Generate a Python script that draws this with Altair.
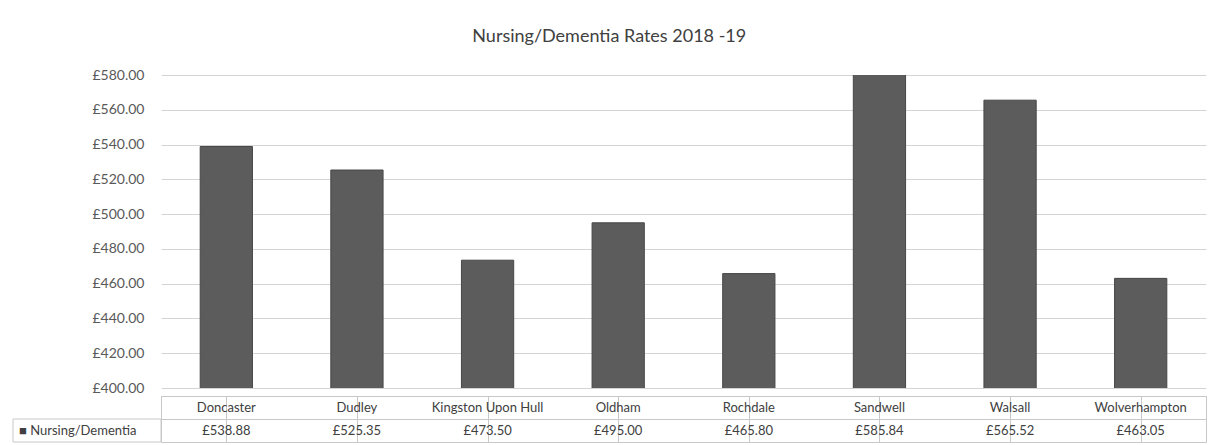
import altair as alt
import pandas as pd

# ---- data ----
authorities = ["Doncaster", "Dudley", "Kingston Upon Hull", "Oldham",
               "Rochdale", "Sandwell", "Walsall", "Wolverhampton"]
rates = [538.88, 525.35, 473.50, 495.00, 465.80, 585.84, 565.52, 463.05]
y_ticks = [400, 420, 440, 460, 480, 500, 520, 540, 560, 580]
series_name = "Nursing/Dementia"
title_text = "Nursing/Dementia Rates 2018 -19"

FONT = "Lato"
TEXT = "#404040"
GRID = "#d4d4d4"
BAR = "#5c5c5c"

W = 1045
H_PLOT = 313
H_TABLE = 46

bars_df = pd.DataFrame({"Authority": authorities, "Rate": rates})

table_rows = []
for a, r in zip(authorities, rates):
    table_rows.append({"Authority": a, "row": "name", "t": a})
    table_rows.append({"Authority": a, "row": "value", "t": f"£{r:.2f}"})
table_df = pd.DataFrame(table_rows)

bars = alt.Chart(bars_df).mark_bar(color=BAR, stroke="#474747", strokeWidth=1, clip=True).encode(
    x=alt.X("Authority:N", sort=authorities, axis=None,
            scale=alt.Scale(paddingInner=0.6, paddingOuter=0.3)),
    y=alt.Y("Rate:Q",
            scale=alt.Scale(domain=[400, 580], zero=False, nice=False),
            axis=alt.Axis(values=y_ticks, title=None, domain=False, ticks=False,
                          labelExpr="'£' + format(datum.value, '.2f')",
                          labelFont=FONT, labelFontSize=14, labelColor="#595959",
                          labelPadding=17, grid=True, gridColor=GRID, gridWidth=1)),
).properties(width=W, height=H_PLOT, view=alt.ViewBackground(stroke=None))

table_x = alt.X("Authority:N", sort=authorities,
                scale=alt.Scale(paddingInner=0, paddingOuter=0),
                axis=alt.Axis(title=None, labels=False, ticks=False, domain=False,
                              grid=True, bandPosition=0, gridColor="#c8c8c8"))
table_y = alt.Y("row:N", sort=["name", "value"],
                scale=alt.Scale(paddingInner=0, paddingOuter=0),
                axis=alt.Axis(title=None, labels=False, ticks=False, domain=False,
                              grid=True, bandPosition=0, gridColor="#c8c8c8"))

table_text = alt.Chart(table_df).mark_text(
    font=FONT, fontSize=13, color=TEXT, baseline="middle"
).encode(x=table_x, y=table_y, text="t:N")

legend_df = pd.DataFrame({"row": ["value"], "t": ["\u25a0 " + series_name]})
legend_box = alt.Chart(legend_df).mark_rect(fill=None, stroke="#c8c8c8", strokeWidth=1).encode(
    x=alt.value(-148), x2=alt.value(0), y=alt.Y("row:N", sort=["name", "value"])
)
legend_text = alt.Chart(legend_df).mark_text(
    font=FONT, fontSize=13, color=TEXT, align="left", baseline="middle"
).encode(x=alt.value(-142), y=alt.Y("row:N", sort=["name", "value"]), text="t:N")

table = alt.layer(legend_box, table_text, legend_text).properties(
    width=W, height=H_TABLE, view=alt.ViewBackground(stroke="#c8c8c8")
)

chart = alt.vconcat(bars, table, spacing=0).properties(
    title=alt.TitleParams(title_text, font=FONT, fontSize=18, fontWeight="normal",
                          color=TEXT, anchor="middle", offset=22),
    padding={"top": 28, "left": 12, "right": 10, "bottom": 5},
).configure(background="white")

chart.save("out.html", embed_options={"renderer": "svg", "actions": False})
